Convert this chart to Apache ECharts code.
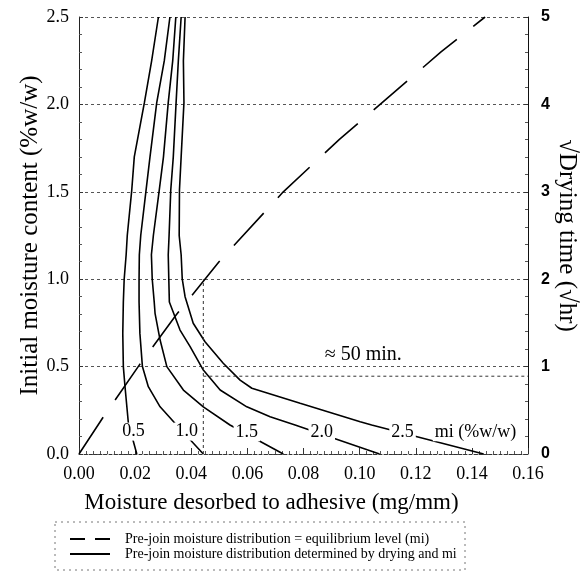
<!DOCTYPE html>
<html>
<head>
<meta charset="utf-8">
<script src="https://cdn.jsdelivr.net/npm/echarts@6/dist/echarts.min.js"></script>
<style>
html,body{margin:0;padding:0;background:#fff;}
#chart{width:582px;height:572px;}
</style>
</head>
<body>
<div id="chart"></div>
<script>
// equilibrium line (dashed)
var eqLine = [[0,0],[0.0086,0.21],[0.0211,0.50],[0.0346,0.795],[0.0499,1.10],[0.0728,1.50],[0.0928,1.80],[0.1073,2.0],[0.129,2.3],[0.1447,2.5]];

// drying curves, one per mi level
var curve05 = [[0.0283,2.50],[0.0259,2.25],[0.0233,2.01],[0.0197,1.70],[0.0188,1.51],[0.0172,1.25],[0.0168,1.14],[0.0161,1.00],[0.0158,0.87],[0.0156,0.69],[0.0158,0.50],[0.0164,0.385],[0.0176,0.176],[0.0206,0]];
var curve10 = [[0.0324,2.50],[0.0304,2.25],[0.0277,2.01],[0.0253,1.70],[0.0239,1.51],[0.0220,1.25],[0.0215,1.14],[0.0214,1.00],[0.0214,0.87],[0.0217,0.69],[0.0226,0.50],[0.0247,0.385],[0.0289,0.27],[0.0342,0.176],[0.0443,0]];
var curve15 = [[0.0345,2.50],[0.0334,2.25],[0.0318,2.01],[0.0301,1.70],[0.0286,1.51],[0.0265,1.25],[0.0258,1.14],[0.0261,1.00],[0.0268,0.87],[0.0271,0.805],[0.0289,0.652],[0.0313,0.50],[0.0372,0.366],[0.0443,0.27],[0.0538,0.166],[0.0728,0]];
var curve20 = [[0.0364,2.50],[0.0354,2.25],[0.0346,2.01],[0.0336,1.70],[0.0327,1.51],[0.0321,1.25],[0.0318,1.14],[0.0320,1.00],[0.0322,0.87],[0.0360,0.709],[0.0396,0.614],[0.0443,0.48],[0.0503,0.366],[0.0598,0.27],[0.0681,0.213],[0.0770,0.166],[0.1071,0]];
var curve25 = [[0.0378,2.50],[0.0372,2.25],[0.0374,2.01],[0.0364,1.70],[0.0358,1.51],[0.0357,1.25],[0.0364,1.14],[0.0368,1.00],[0.0378,0.90],[0.0407,0.748],[0.0449,0.642],[0.0514,0.519],[0.0574,0.423],[0.0616,0.376],[0.0788,0.29],[0.1002,0.185],[0.1043,0.166],[0.1442,0]];
var curves = [curve05, curve10, curve15, curve20, curve25];

// curve labels
var labelText = ['0.5','1.0','1.5','2.0','2.5','mi (%w/w)'];
var labelX = [0.0194,0.0384,0.0598,0.0865,0.1153,0.1413];
var labelY = [0.128,0.128,0.124,0.124,0.124,0.124];

// 50 minute reference
var refX = 0.0443;
var refTop = 1.0;
var refY = 0.445;
var refText = '\u2248 50 min.';
var refTextPos = [0.1013, 0.566];

var legendNames = ['Pre-join moisture distribution = equilibrium level (mi)', 'Pre-join moisture distribution determined by drying and mi'];

var serif = 'Liberation Serif';

function mainChart(){
    var chart = echarts.init(document.getElementById('chart'));
    var series = [];
    series.push({
        name: legendNames[0],
        type: 'line',
        data: eqLine,
        symbol: 'none',
        itemStyle: {color: '#000'},
        lineStyle: {color: '#000', width: 1.6, type: [44, 21]},
        z: 3
    });
    curves.forEach(function(c){
        series.push({
            name: legendNames[1],
            type: 'line',
            data: c,
            symbol: 'none',
            itemStyle: {color: '#000'},
            lineStyle: {color: '#000', width: 1.6},
            z: 3
        });
    });
    series.push({
        name: 'ref',
        type: 'line',
        data: [[refX, 0], [refX, refTop]],
        symbol: 'none',
        lineStyle: {color: '#333', width: 1, type: [3, 3]}
    });
    series.push({
        name: 'ref2',
        type: 'line',
        data: [[refX, refY], [0.16, refY]],
        symbol: 'none',
        lineStyle: {color: '#333', width: 1, type: [3, 3]}
    });
    var labelData = labelText.map(function(t, i){ return [labelX[i], labelY[i], t]; });
    labelData.push({value: [refTextPos[0], refTextPos[1], refText], label: {backgroundColor: 'transparent', fontSize: 20}});
    series.push({
        name: 'labels',
        type: 'scatter',
        data: labelData,
        symbolSize: 0,
        z: 5,
        itemStyle: {opacity: 1},
        label: {
            show: true,
            position: 'inside',
            formatter: function(p){ return p.data.value ? p.data.value[2] : p.data[2]; },
            fontFamily: serif,
            fontSize: 18,
            color: '#000',
            backgroundColor: '#fff',
            padding: [0, 2]
        }
    });

    var option = {
        animation: false,
        grid: {left: 79, right: 54, top: 17, bottom: 118, outerBoundsMode: 'none'},
        legend: {
            orient: 'vertical',
            left: 65,
            top: 527,
            itemWidth: 40,
            itemHeight: 2,
            itemGap: 1,
            textStyle: {fontFamily: serif, fontSize: 14, color: '#000', padding: [0, 0, 0, 10]},
            data: [
                {name: legendNames[0], icon: 'path://M0,0 L15,0 L15,2 L0,2 Z M25,0 L40,0 L40,2 L25,2 Z'},
                {name: legendNames[1], icon: 'path://M0,0 L40,0 L40,2 L0,2 Z'}
            ]
        },
        graphic: [{
            type: 'rect',
            shape: {x: 55, y: 522, width: 410, height: 48},
            style: {fill: 'none', stroke: '#777', lineWidth: 1, lineDash: [2, 4]}
        }],
        xAxis: {
            type: 'value',
            min: 0, max: 0.16, interval: 0.02,
            name: 'Moisture desorbed to adhesive (mg/mm)',
            nameLocation: 'middle',
            nameGap: 37,
            nameTextStyle: {fontFamily: serif, fontSize: 23, color: '#000', padding: [0, 64, 0, 0]},
            axisLine: {lineStyle: {color: '#333', type: [3, 2]}},
            axisTick: {inside: true, length: 6, lineStyle: {color: '#333'}},
            minorTick: {show: true, splitNumber: 8, length: 3, lineStyle: {color: '#555'}},
            axisLabel: {fontFamily: serif, fontSize: 18, color: '#000', margin: 11, formatter: function(v){ return v.toFixed(2); }},
            splitLine: {show: false}
        },
        yAxis: [{
            type: 'value',
            min: 0, max: 2.5, interval: 0.5,
            name: 'Initial moisture content (%w/w)',
            nameLocation: 'middle',
            nameGap: 36,
            nameMoveOverlap: false,
            nameTextStyle: {fontFamily: serif, fontSize: 25, color: '#000'},
            axisLine: {show: true, lineStyle: {color: '#222'}},
            axisTick: {inside: true, length: 4, lineStyle: {color: '#333'}},
            minorTick: {show: true, splitNumber: 5, length: 3, lineStyle: {color: '#555'}},
            axisLabel: {fontFamily: serif, fontSize: 18, color: '#000', margin: 10, formatter: function(v){ return v.toFixed(1); }},
            splitLine: {show: true, lineStyle: {color: '#555', type: [3, 3], width: 1}}
        }, {
            type: 'value',
            min: 0, max: 5, interval: 1,
            position: 'right',
            name: '\u221ADrying time (\u221Ahr)',
            nameLocation: 'middle',
            nameGap: 26,
            nameMoveOverlap: false,
            nameRotate: -90,
            nameTextStyle: {fontFamily: serif, fontSize: 25, color: '#000'},
            axisLine: {show: true, lineStyle: {color: '#111'}},
            axisTick: {inside: true, length: 4, lineStyle: {color: '#333'}},
            minorTick: {show: true, splitNumber: 5, length: 3, lineStyle: {color: '#555'}},
            axisLabel: {fontFamily: 'Liberation Sans', fontSize: 16, fontWeight: 'bold', color: '#000', margin: 13},
            splitLine: {show: false}
        }],
        series: series
    };
    chart.setOption(option);
}
mainChart();
</script>
</body>
</html>
